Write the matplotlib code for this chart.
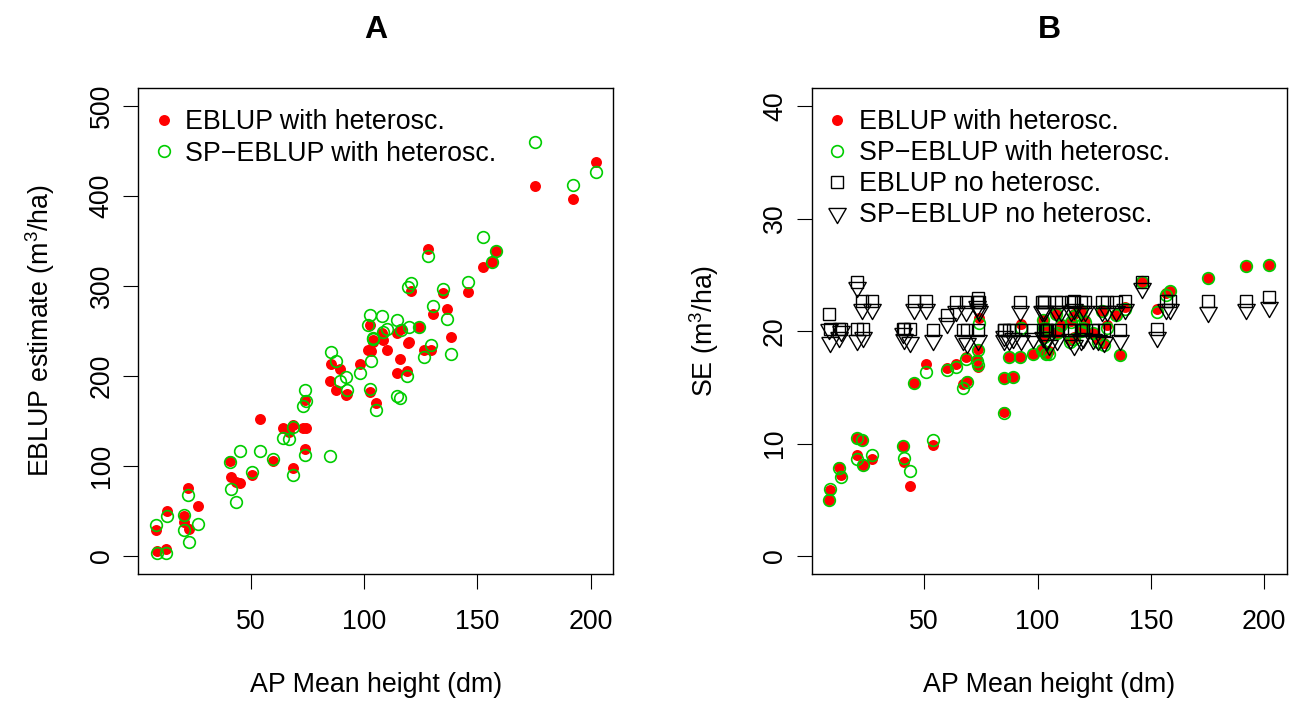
import matplotlib
matplotlib.use("Agg")
import matplotlib.pyplot as plt

plt.rcParams["font.family"] = ["Liberation Sans", "DejaVu Sans"]
plt.rcParams["mathtext.fontset"] = "custom"
plt.rcParams["mathtext.rm"] = "Liberation Sans"
plt.rcParams["mathtext.default"] = "regular"

# one entry per small area
height = [8.1, 8.6, 12.5, 13.2, 20.3, 20.5, 22.4, 22.8, 26.8, 40.8,
          41.2, 43.5, 45.3, 50.7, 54.0, 60.0, 64.0, 67.0, 68.4, 68.8,
          73.9, 74.3, 73.2, 73.9, 85.3, 85.0, 87.5, 89.3, 92.2, 92.5,
          98.2, 101.9, 102.7, 103.7, 102.4, 103.0, 104.1, 105.2, 108.1, 108.5,
          110.3, 114.4, 114.7, 115.9, 116.2, 119.1, 119.4, 119.9, 120.9, 124.3,
          126.5, 128.4, 129.4, 130.5, 134.6, 136.6, 138.5, 146.0, 152.6, 156.6,
          158.4, 175.3, 192.2, 202.2]

eblup_het = [28.9, 5.9, 7.4, 50.3, 44.4, 38, 76, 29.6, 55.6, 105.6,
             88, 82, 80.7, 90, 152, 105.6, 142.6, 138, 145.6, 97.4,
             173, 142.6, 142, 118.6, 213, 194.8, 184.4, 207.8, 178.9, 180,
             213, 228.9, 256.7, 238, 182.6, 228, 240, 170.4, 248, 240,
             228.9, 203, 248, 218.9, 252, 205.9, 236.3, 238, 294.8, 254,
             228.9, 341, 228.9, 268.9, 292, 274.4, 243.5, 293, 320.8, 326.3,
             339.2, 411, 396.3, 437.4]

speblup_het = [34.4, 3.0, 3.0, 44.8, 45.6, 28.9, 67.8, 15.9, 35.6, 104.8,
               74.4, 59.6, 117, 93.7, 117, 107.4, 131.4, 129.6, 143.7, 90,
               184.4, 172.6, 166.7, 112.2, 226.3, 111, 217, 194.8, 199.2, 184.4,
               203.7, 256.7, 267.8, 240.7, 185.6, 217, 241.9, 162.2, 266.7, 249.2,
               251.9, 177.8, 262.2, 175.2, 251.1, 200, 299.2, 254.8, 303, 254,
               220.8, 333.3, 234.4, 277.8, 297, 263.3, 224.4, 304, 354.8, 326.3,
               339.2, 459.7, 412.2, 427]

se_eblup_het = [5.0, 5.9, 7.9, 7.2, 10.5, 9.0, 10.3, 8.1, 8.6, 9.8,
                8.4, 6.2, 15.4, 17.1, 9.9, 16.7, 17.1, 15.3, 17.7, 15.6,
                18.4, 21.2, 17.5, 16.8, 15.8, 12.8, 17.7, 15.9, 17.7, 20.6,
                18.0, 18.3, 20.5, 18.0, 21.0, 19.5, 20.2, 18.2, 21.5, 19.8,
                20.5, 19.2, 20.9, 19.5, 21.5, 20.0, 21.8, 20.3, 21.0, 19.8,
                19.3, 21.8, 18.9, 20.5, 21.4, 17.9, 22.1, 24.4, 22.0, 23.4,
                23.6, 24.7, 25.8, 25.9]

se_speblup_het = [5.0, 6.0, 7.8, 7.05, 10.5, 8.6, 10.3, 8.1, 9.0, 9.8,
                  8.7, 7.6, 15.4, 16.4, 10.3, 16.5, 16.8, 14.9, 17.5, 15.5,
                  18.3, 20.7, 17.3, 17.0, 15.8, 12.7, 17.7, 15.9, 17.7, 20.3,
                  18.0, 18.3, 20.3, 18.0, 21.0, 19.5, 20.0, 18.0, 21.5, 19.8,
                  20.5, 19.0, 20.8, 19.3, 21.3, 20.0, 21.8, 20.3, 20.8, 19.8,
                  19.0, 21.8, 18.8, 20.3, 21.4, 17.9, 22.0, 24.4, 21.7, 23.2,
                  23.6, 24.7, 25.8, 25.9]

se_eblup = [21.5, 20.2, 20.2, 20.2, 24.4, 20.2, 22.7, 20.2, 22.7, 20.2,
            20.2, 20.2, 22.7, 22.7, 20.1, 21.4, 22.6, 20.1, 22.6, 20.1,
            22.9, 22.6, 22.6, 20.1, 20.1, 20.1, 20.1, 20.1, 22.6, 20.1,
            20.1, 22.6, 22.6, 20.1, 20.1, 22.6, 20.1, 20.1, 22.6, 20.1,
            22.6, 20.1, 22.6, 20.1, 22.7, 20.1, 22.6, 20.1, 22.6, 20.1,
            20.1, 22.6, 20.1, 22.6, 22.6, 20.1, 22.7, 24.4, 20.2, 22.7,
            22.7, 22.7, 22.7, 23.0]

se_speblup = [20.2, 19.0, 19.5, 20.0, 23.9, 19.2, 22.0, 19.5, 22.0, 19.8,
              19.3, 19.0, 22.0, 22.0, 19.2, 20.7, 21.8, 19.2, 21.8, 18.9,
              22.0, 21.8, 22.2, 19.2, 19.2, 19.6, 19.2, 19.4, 21.8, 19.2,
              19.4, 21.8, 21.8, 19.2, 19.5, 21.8, 19.2, 18.8, 21.8, 19.2,
              21.8, 19.3, 21.8, 18.8, 22.0, 19.2, 21.8, 19.4, 21.8, 19.3,
              19.2, 21.8, 19.0, 21.8, 21.8, 19.2, 22.0, 23.8, 19.5, 22.0,
              22.0, 21.7, 22.0, 22.1]

RED = "#FF0000"
GREEN = "#00CD00"
FS = 19.3
W, H = 1306, 702

# R's pch 6: downward triangle centred like R does it
tri_down = [(-1, 0.577), (1, 0.577), (0, -1.155), (-1, 0.577)]

red_kw = dict(ls="none", marker="o", ms=7.9, mfc=RED, mec="none")
green_kw = dict(ls="none", marker="o", ms=8.4, mfc="none", mec=GREEN, mew=1.2)
sq_kw = dict(ls="none", marker="s", ms=8.2, mfc="none", mec="black", mew=1.0)
tri_kw = dict(ls="none", marker=tri_down, ms=14.5, mfc="none", mec="black", mew=1.0)

fig = plt.figure(figsize=(W / 100, H / 100), dpi=100)

lo, hi = min(height), max(height)
pad = 0.04 * (hi - lo)


def setup(ax, yticks, ylim, title, ylabel, ylab_px):
    ax.set_xlim(lo - pad, hi + pad)
    ax.set_ylim(*ylim)
    ax.set_xticks([50, 100, 150, 200])
    ax.set_yticks(yticks)
    ax.tick_params(length=11, width=0.8, labelsize=FS, direction="out")
    ax.tick_params(axis="x", pad=14)
    ax.tick_params(axis="y", pad=6, labelrotation=90)
    for lab in ax.get_yticklabels():
        lab.set_va("center")
    for s in ax.spines.values():
        s.set_linewidth(1.0)
    ax.set_xlabel("AP Mean height (dm)", fontsize=FS)
    ax.xaxis.set_label_coords(0.5, -(685 - 574) / 486)
    ax.xaxis.label.set_va("center")
    ax.set_ylabel(ylabel, fontsize=FS)
    ax.yaxis.set_label_coords(-ylab_px / 475, 0.5)
    ax.yaxis.label.set_va("center")
    ax.text(0.5, 1 + 58 / 486, title, transform=ax.transAxes, ha="center",
            va="center", fontsize=23, fontweight="bold")


leg_kw = dict(loc="upper left", bbox_to_anchor=(0, 1), borderaxespad=0,
              borderpad=0.8, handlelength=0.3, handletextpad=0.66,
              frameon=False, fontsize=FS, numpoints=1)

# panel A
axA = fig.add_axes([138.3 / W, 128 / H, 475 / W, 486 / H])
axA.plot(height, eblup_het, label="EBLUP with heterosc.", **red_kw)
axA.plot(height, speblup_het, label="SP\u2212EBLUP with heterosc.", **green_kw)
setup(axA, [0, 100, 200, 300, 400, 500], (-20, 520), "A",
      "EBLUP estimate (m$^3$/ha)", 98)
axA.legend(labelspacing=0.2, **leg_kw)

# panel B
axB = fig.add_axes([811.7 / W, 128 / H, 475 / W, 486 / H])
axB.plot(height, se_eblup_het, label="EBLUP with heterosc.", **red_kw)
axB.plot(height, se_speblup_het, label="SP\u2212EBLUP with heterosc.", **green_kw)
axB.plot(height, se_eblup, label="EBLUP no heterosc.", **sq_kw)
axB.plot(height, se_speblup, label="SP\u2212EBLUP no heterosc.", **tri_kw)
setup(axB, [0, 10, 20, 30, 40], (-1.6, 41.6), "B", "SE (m$^3$/ha)", 108)
axB.legend(labelspacing=0.18, **leg_kw)

fig.savefig("out.png", dpi=100)
